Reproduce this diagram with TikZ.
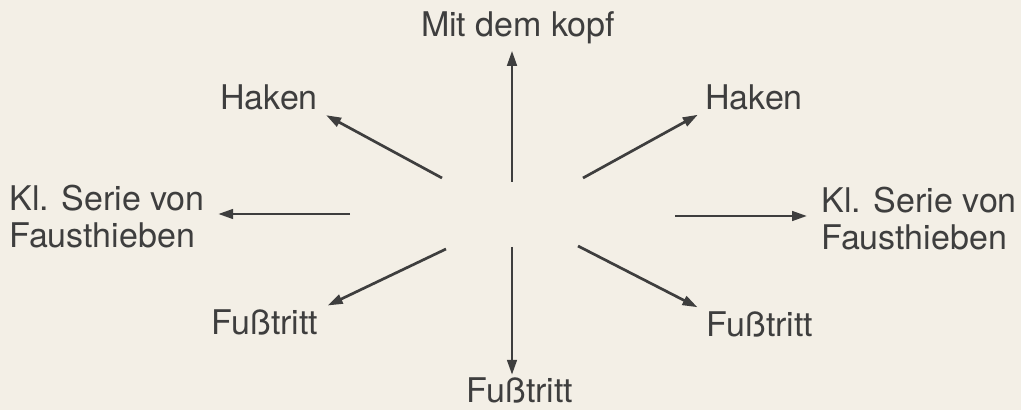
\documentclass[tikz,border=0pt]{standalone}
\usepackage{fontspec}
\setmainfont{TeX Gyre Heros}
\usetikzlibrary{arrows.meta}

\definecolor{papier}{RGB}{243,239,230}
\definecolor{tinte}{RGB}{62,62,62}

\tikzset{
  richtung/.style={draw=tinte, line width=1.35pt, -{Triangle[length=7.5pt,width=4.8pt]}},
  ziel/.style={inner sep=0pt, text=tinte, font=\fontsize{17}{18.5}\selectfont},
}

\begin{document}
\begin{tikzpicture}[x=0.5pt, y=-0.5pt]

        % Hintergrund
        \fill[papier] (0,0) rectangle (1021,410);
        \useasboundingbox (0,0) rectangle (1021,410);

        % Beschriftungen
        \node[ziel, anchor=base] (kopf) at (518,37) {Mit dem kopf};
        \node[ziel, anchor=base] (hakenL) at (269,110) {Haken};
        \node[ziel, anchor=base] (hakenR) at (754,110) {Haken};
        \node[ziel, anchor=west, align=left] (serieL) at (9,217) {Kl. Serie von\\Fausthieben};
        \node[ziel, anchor=west, align=left] (serieR) at (821,219) {Kl. Serie von\\Fausthieben};
        \node[ziel, anchor=base] (fussL) at (265,335) {Fußtritt};
        \node[ziel, anchor=base] (fussR) at (760,337) {Fußtritt};
        \node[ziel, anchor=base] (fussU) at (520,403) {Fußtritt};

        % Anfangspunkte der Pfeile
        \coordinate (sOben) at (512,182);
        \coordinate (sObenL) at (442,178);
        \coordinate (sObenR) at (583,178);
        \coordinate (sLinks) at (350,214);
        \coordinate (sRechts) at (675,216);
        \coordinate (sUntenL) at (446,249);
        \coordinate (sUntenR) at (578,246);
        \coordinate (sUnten) at (512,247);

        % Pfeile
        \draw[richtung, shorten >=3pt] (sOben) -- (sOben |- kopf.south);
        \draw[richtung, shorten >=4.5pt] (sObenL) -- (hakenL.south east);
        \draw[richtung, shorten >=4pt] (sObenR) -- (hakenR.south west);
        \draw[richtung, shorten >=6.5pt] (sLinks) -- (sLinks -| serieL.east);
        \draw[richtung, shorten >=7pt] (sRechts) -- (sRechts -| serieR.west);
        \draw[richtung, shorten >=5pt] (sUntenL) -- (fussL.north east);
        \draw[richtung, shorten >=5pt] (sUntenR) -- (fussR.north west);
        \draw[richtung, shorten >=1.5pt] (sUnten) -- (sUnten |- fussU.north);

\end{tikzpicture}
\end{document}
